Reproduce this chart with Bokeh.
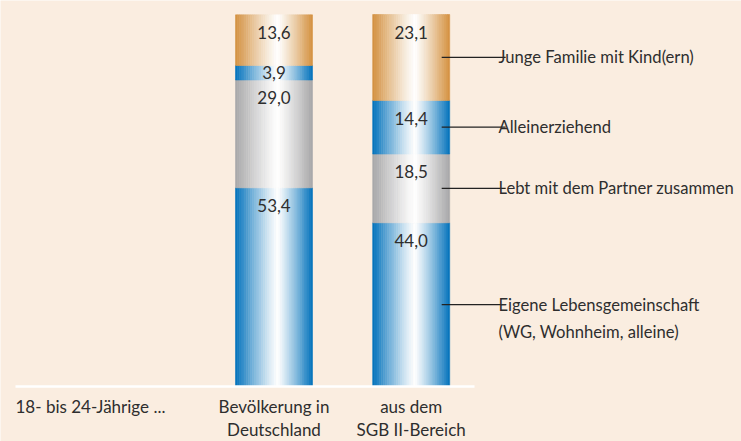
from bokeh.plotting import figure
from bokeh.models import Range1d, ColumnDataSource
from bokeh.core.properties import value
from bokeh.embed import file_html
from bokeh.resources import INLINE

# ---- data ----
groups = ["Bevölkerung in\nDeutschland", "aus dem\nSGB II-Bereich"]
series = ["Eigene Lebensgemeinschaft\n(WG, Wohnheim, alleine)",
          "Lebt mit dem Partner zusammen",
          "Alleinerziehend",
          "Junge Familie mit Kind(ern)"]
bevoelkerung = [53.4, 29.0, 3.9, 13.6]
sgb2 = [44.0, 18.5, 14.4, 23.1]
row_label = "18- bis 24-Jährige ..."

# ---- styles ----
BG = "#FAEDE0"
TXT = "#2E2E2E"
FONT = value("Lato")
FS = "17px"
FS_SERIES = "16.6px"
series_colors = [(0, 113, 187), (166, 166, 168), (0, 113, 187), (211, 144, 62)]

W, H = 741, 441
SPACING = 137.2          # px per category unit
PX_PER_PCT = 3.72
x0_px, y0_px = 273.5, 386
BAR_W = 77 / SPACING
N_STRIPS = 36

p = figure(width=W, height=H, output_backend="svg", toolbar_location=None,
           x_range=Range1d(-x0_px / SPACING, (W - x0_px) / SPACING),
           y_range=Range1d(-(H - y0_px) / PX_PER_PCT, y0_px / PX_PER_PCT),
           min_border=0, background_fill_color=BG, border_fill_color=BG)
p.axis.visible = False
p.grid.visible = False
p.outline_line_color = None


def px_x(px):
    return (px - x0_px) / SPACING


def shade(rgb, t):
    peak = 0.55
    d = abs(t - peak) / (peak if t < peak else 1 - peak)
    w = max(0.0, 1 - d ** 1.15)
    r, g, b = (int(round(c + (255 - c) * w)) for c in rgb)
    return "#%02x%02x%02x" % (r, g, b)


left, right, bottom, top, color = [], [], [], [], []
lab_x, lab_y, lab_t = [], [], []
for gi, vals in enumerate([bevoelkerung, sgb2]):
    base = 0.0
    for si, v in enumerate(vals):
        for k in range(N_STRIPS):
            t = (k + 0.5) / N_STRIPS
            l = gi - BAR_W / 2 + k * BAR_W / N_STRIPS
            left.append(l)
            right.append(l + BAR_W / N_STRIPS)
            bottom.append(base)
            top.append(base + v)
            color.append(shade(series_colors[si], t))
        lab_x.append(gi)
        lab_y.append(base + v - min(4.8, v / 2))
        lab_t.append(f"{v:.1f}".replace(".", ","))
        base += v

src = ColumnDataSource(dict(left=left, right=right, bottom=bottom, top=top, color=color))
p.quad(left="left", right="right", bottom="bottom", top="top", fill_color="color",
       line_color="color", line_width=0.6, source=src)

p.text(x=lab_x, y=lab_y, text=lab_t, text_align="center", text_baseline="middle",
       text_font=FONT, text_font_size=FS, text_color=TXT)

# baseline (white)
p.segment(x0=[px_x(15)], y0=[0], x1=[px_x(474)], y1=[0],
          line_color="white", line_width=2.5)

# category labels
for gi, g in enumerate(groups):
    for li, line in enumerate(g.split("\n")):
        p.text(x=[gi], y=[0], text=[line], text_align="center", text_baseline="middle",
               y_offset=20 + li * 23, text_font=FONT, text_font_size=FS, text_color=TXT)
p.text(x=[px_x(15)], y=[0], text=[row_label], text_align="left",
       text_baseline="middle", y_offset=20, text_font=FONT, text_font_size=FS, text_color=TXT)

# leader lines and series labels from the second bar
base = 0.0
lx0, lx1, ly = [], [], []
for si, v in enumerate(sgb2):
    ly.append(base + v / 2)
    lx0.append(1 + BAR_W / 2 - 8 / SPACING)
    lx1.append(1 + BAR_W / 2 + 56 / SPACING)
    base += v
p.segment(x0=lx0, y0=ly, x1=lx1, y1=ly, line_color="#222222", line_width=1.2)
for si, name in enumerate(series):
    for li, line in enumerate(name.split("\n")):
        p.text(x=[px_x(498)], y=[ly[si]], text=[line], text_align="left",
               text_baseline="alphabetic", y_offset=li * 27, text_font=FONT,
               text_font_size=FS_SERIES, text_color=TXT)

html = file_html(p, INLINE)
html = html.replace("<body>", f'<body style="margin:0;background:{BG};">', 1)
open("out.html", "w").write(html)
